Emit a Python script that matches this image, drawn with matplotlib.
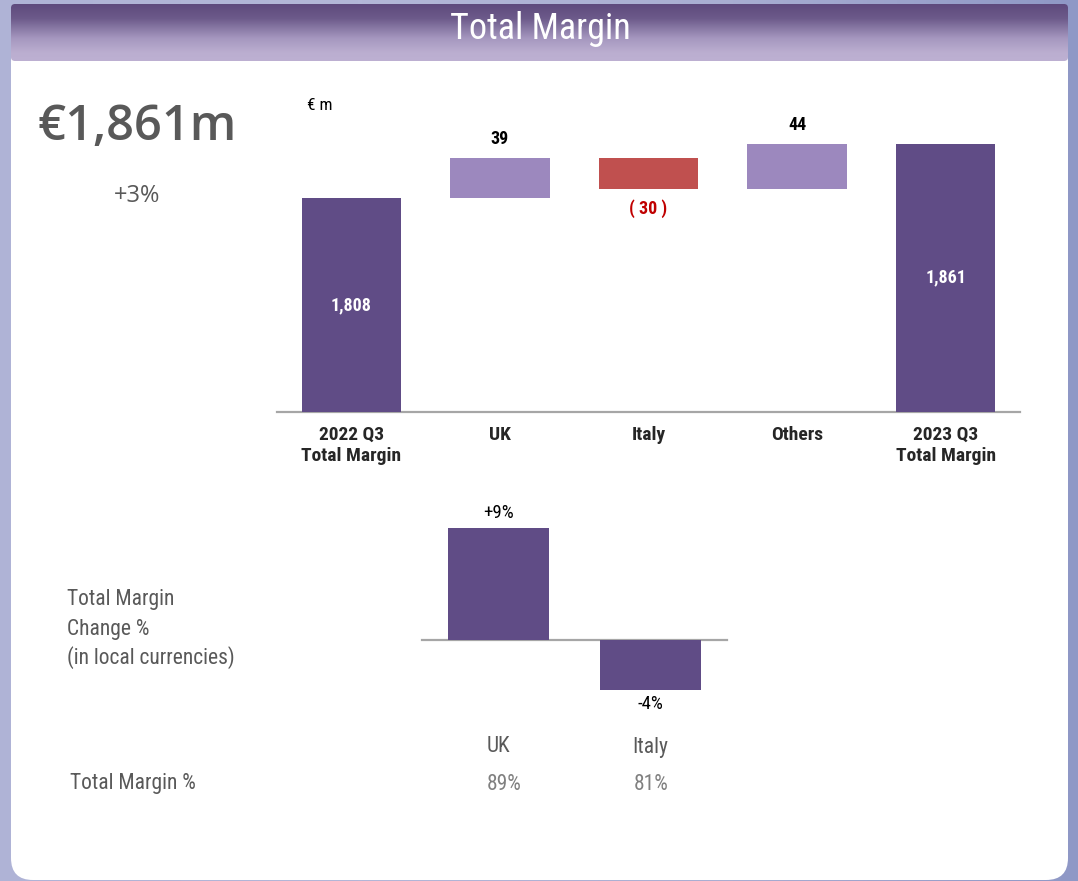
import matplotlib
matplotlib.use("Agg")
import matplotlib.pyplot as plt
import numpy as np
from matplotlib.patches import FancyBboxPatch
from matplotlib.colors import LinearSegmentedColormap
from matplotlib import font_manager

# ---------------- data ----------------
categories = ["2022 Q3\nTotal Margin", "UK", "Italy", "Others", "2023 Q3\nTotal Margin"]
values = [1808, 39, -30, 44, 1861]
value_labels = ["1,808", "39", "( 30 )", "44", "1,861"]
is_total = [True, False, False, False, True]

change_regions = ["UK", "Italy"]
change_pct = [9, -4]
change_labels = ["+9%", "-4%"]
margin_pct_labels = ["89%", "81%"]

headline = "€1,861m"
headline_change = "+3%"

# ---------------- fonts ----------------
avail = {f.name for f in font_manager.fontManager.ttflist}
narrow = [f for f in ["Roboto Condensed", "Liberation Sans Narrow", "Open Sans Condensed"] if f in avail]
NARROW = narrow + ["DejaVu Sans"] if narrow else ["Roboto", "DejaVu Sans"]
plt.rcParams["font.family"] = NARROW

W, H = 1078, 881
fig = plt.figure(figsize=(W / 100, H / 100), dpi=100)

bg = fig.add_axes([0, 0, 1, 1])
bg.set_xlim(0, W)
bg.set_ylim(H, 0)
bg.axis("off")

grad = np.linspace(0, 1, 256)[None, :]
cm_bg = LinearSegmentedColormap.from_list("bg", ["#afb3d6", "#b3b7d8", "#a9aed2", "#8f98c6"])
bg.imshow(grad, extent=(0, W, H, 0), cmap=cm_bg, aspect="auto", zorder=0)

panel = FancyBboxPatch((11, 40), 1057, 840, boxstyle="round,pad=0,rounding_size=22",
                       facecolor="white", edgecolor="none", zorder=1)
bg.add_patch(panel)

cm_head = LinearSegmentedColormap.from_list("head", [(0, "#5e4a7d"), (0.25, "#6c5a8a"),
                                                     (0.6, "#a597bf"), (0.85, "#bbaed0"), (1, "#bdb0d2")])
hgrad = np.linspace(0, 1, 256)[:, None]
im = bg.imshow(hgrad, extent=(11, 1068, 61, 4), cmap=cm_head, aspect="auto", zorder=2)
clip = FancyBboxPatch((11, 4), 1057, 57, boxstyle="round,pad=0,rounding_size=4",
                      facecolor="none", edgecolor="none", transform=bg.transData)
bg.add_patch(clip)
im.set_clip_path(clip)

bg.text(540, 29, "Total Margin", color="white", fontsize=26, ha="center", va="center", zorder=3)

bg.text(137, 127, headline, color="#595959", fontsize=35, ha="center", va="center",
        family=["Open Sans", "DejaVu Sans"], weight="semibold", zorder=3)
bg.text(137, 196, headline_change, color="#595959", fontsize=17, ha="center", va="center",
        family=["Open Sans", "DejaVu Sans"], zorder=3)
bg.text(307, 106, "€ m", color="black", fontsize=12.5, ha="left", va="center", zorder=3)

for i, t in enumerate(["Total Margin", "Change %", "(in local currencies)"]):
    bg.text(67, 600 + 29 * i, t, color="#595959", fontsize=15.5, ha="left", va="center", zorder=3)
bg.text(70, 783, "Total Margin %", color="#595959", fontsize=15.5, ha="left", va="center", zorder=3)

# ---------------- waterfall ----------------
def px_rect(x0, y0, x1, y1):
    return [x0 / W, 1 - y1 / H, (x1 - x0) / W, (y1 - y0) / H]

ax = fig.add_axes(px_rect(277, 100, 1020, 412))
ax.set_xlim(-0.5, len(categories) - 0.5)
ax.set_ylim(1598, 1904)
ax.axis("off")
ax.set_zorder(5)
ax.patch.set_alpha(0)

dark = "#604c86"
light = "#9c88be"
red = "#c0504f"

running = 0
for i, (v, tot) in enumerate(zip(values, is_total)):
    if tot:
        bottom, height, col = 0, v, dark
        running = v
    else:
        bottom = running if v >= 0 else running + v
        height = abs(v)
        col = light if v >= 0 else red
        running += v
    ax.bar(i, height, bottom=bottom, width=0.67, color=col, edgecolor="none", zorder=2)
    if tot:
        ax.text(i, (1598 + v) / 2, value_labels[i], color="white", fontsize=13,
                weight="bold", ha="center", va="center", zorder=3)
    elif v >= 0:
        ax.text(i, bottom + height + 10, value_labels[i], color="black", fontsize=13,
                weight="bold", ha="center", va="bottom", zorder=3)
    else:
        ax.text(i, bottom - 10, value_labels[i], color="#c00000", fontsize=13,
                weight="bold", ha="center", va="top", zorder=3)
ax.axhline(1598, color="#a6a6a6", lw=1.6, zorder=1, clip_on=False)

for i, c in enumerate(categories):
    ax.text(i, 1598 - 14, c, ha="center", va="top", fontsize=14, color="#262626",
            weight="bold", linespacing=1.2)

# ---------------- change % chart ----------------
ax2 = fig.add_axes(px_rect(422, 500, 727, 720))
ax2.set_xlim(-0.5, len(change_regions) - 0.5)
ax2.set_ylim(-(720 - 640) / 12.5, (640 - 500) / 12.5)
ax2.axis("off")
ax2.set_zorder(5)
ax2.patch.set_alpha(0)
ax2.bar(range(len(change_pct)), change_pct, width=0.66, color=dark, edgecolor="none", zorder=2)
ax2.axhline(0, color="#a6a6a6", lw=1.6, zorder=1, clip_on=False)
for i, (v, lab) in enumerate(zip(change_pct, change_labels)):
    if v >= 0:
        ax2.text(i, v + 0.4, lab, ha="center", va="bottom", fontsize=13.5, color="black")
    else:
        ax2.text(i, v - 0.4, lab, ha="center", va="top", fontsize=13.5, color="black")
for i, (r, m) in enumerate(zip(change_regions, margin_pct_labels)):
    ax2.text(i, -(747 - 640) / 12.5, r, ha="center", va="center", fontsize=15.5, color="#595959",
             clip_on=False)
    ax2.text(i + 0.04 * (1 - i), -(784 - 640) / 12.5, m, ha="center", va="center", fontsize=15.5,
             color="#808080", clip_on=False)

fig.savefig("out.png", dpi=100)
